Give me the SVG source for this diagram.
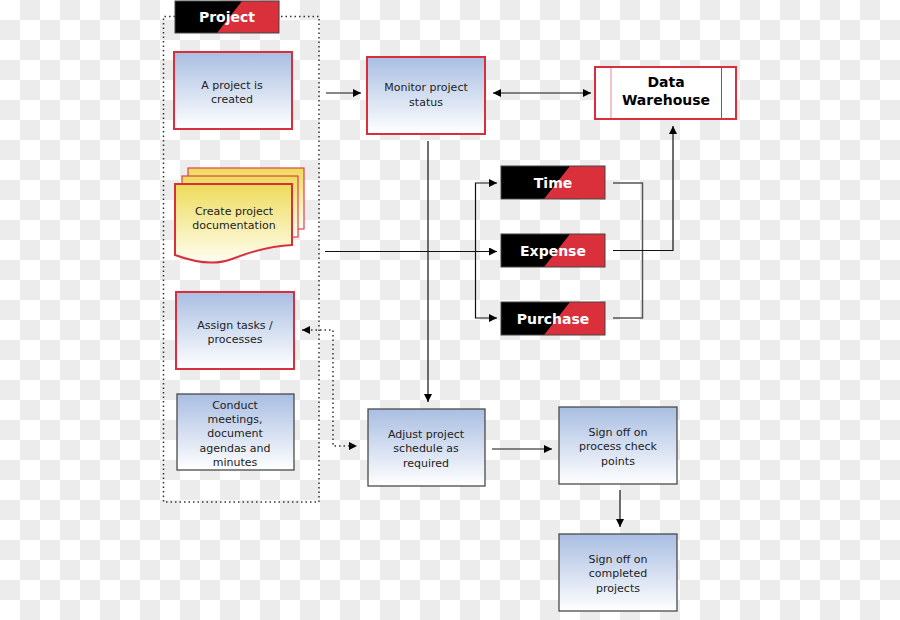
<svg xmlns="http://www.w3.org/2000/svg" width="900" height="620" viewBox="0 0 900 620">
<defs>
<pattern id="chk" width="40" height="40" patternUnits="userSpaceOnUse">
<rect width="40" height="40" fill="#ffffff"/>
<rect x="20" y="0" width="20" height="20" fill="#ececec"/>
<rect x="0" y="20" width="20" height="20" fill="#ececec"/>
</pattern>
<linearGradient id="blue" x1="0" y1="0" x2="0" y2="1">
<stop offset="0" stop-color="#a9bee2"/>
<stop offset="1" stop-color="#ffffff"/>
</linearGradient>
<linearGradient id="yellow" x1="0" y1="0" x2="0" y2="1">
<stop offset="0" stop-color="#eedb5a"/>
<stop offset="1" stop-color="#fffef2"/>
</linearGradient>
<marker id="arr" viewBox="0 0 10 10" refX="10" refY="5" markerWidth="8" markerHeight="8" markerUnits="userSpaceOnUse" orient="auto-start-reverse">
<path d="M0,0 L10,5 L0,10 Z" fill="#000"/>
</marker>
</defs>
<style>
.t{font-family:"DejaVu Sans",Verdana,sans-serif;font-size:11px;fill:#222;text-anchor:middle}
.b{font-family:"DejaVu Sans",Verdana,sans-serif;font-size:14px;font-weight:bold;text-anchor:middle}
.w{fill:#fff}
.k{fill:#000}
.redbox{fill:url(#blue);stroke:#d92f3d;stroke-width:2}
.graybox{fill:url(#blue);stroke:#4a4a4a;stroke-width:1.3}
.ln{fill:none;stroke:#111;stroke-width:1.2}
.gl{fill:none;stroke:#555;stroke-width:1.5}
.dot{fill:none;stroke:#333;stroke-width:1.5;stroke-dasharray:1.5,3}
.tabblack{fill:#000}
.tabred{fill:#d9303b}
.tabframe{fill:none;stroke:#444;stroke-width:1}
</style>
<rect width="900" height="620" fill="url(#chk)"/>

<g id="project-container">
<path class="dot" d="M175,16.5 H163.5 V502 H319 V16.5 H279"/>
</g>

<g id="connectors">
<line class="ln" x1="326" y1="93" x2="361" y2="93" marker-end="url(#arr)"/>
<line class="ln" x1="493" y1="93" x2="591" y2="93" marker-start="url(#arr)" marker-end="url(#arr)"/>
<line class="ln" x1="428" y1="141" x2="428" y2="402" marker-end="url(#arr)"/>
<line class="ln" x1="325" y1="251.5" x2="497" y2="251.5" marker-end="url(#arr)"/>
<path class="ln" d="M497,183 H475.5 V318 H497" marker-start="url(#arr)" marker-end="url(#arr)"/>
<path class="gl" d="M613,183 H642.5 V318 H613"/>
<path class="ln" d="M613,250.5 H673 V126" marker-end="url(#arr)"/>
<path class="dot" d="M302,330 H333 V446 H357" marker-start="url(#arr)" marker-end="url(#arr)"/>
<line class="ln" x1="492" y1="449" x2="552" y2="449" marker-end="url(#arr)"/>
<line class="ln" x1="620" y1="490" x2="620" y2="527" marker-end="url(#arr)"/>
</g>

<g id="project-tab">
<rect x="175" y="1" width="104" height="32" class="tabblack"/>
<polygon points="242,1 279,1 279,33 217,33" class="tabred"/>
<rect x="175" y="1" width="104" height="32" class="tabframe"/>
<text x="227" y="22" class="b w">Project</text>
</g>

<g id="project-created">
<rect x="174" y="52" width="118" height="77" class="redbox"/>
<text x="232" y="89" class="t">A project is</text>
<text x="232" y="103" class="t">created</text>
</g>

<g id="create-doc">
<rect x="188" y="168" width="116" height="61" fill="url(#yellow)" stroke="#e0404e" stroke-width="1.2"/>
<rect x="182" y="176" width="116" height="61" fill="url(#yellow)" stroke="#e0404e" stroke-width="1.2"/>
<path d="M175,184 H292 V245 C270,246 250,252 232,259 C214,266 194,262 175,255 Z" fill="url(#yellow)" stroke="#d92f3d" stroke-width="2"/>
<text x="234" y="215" class="t">Create project</text>
<text x="234" y="229" class="t">documentation</text>
</g>

<g id="assign-tasks">
<rect x="176" y="292" width="118" height="77" class="redbox"/>
<text x="235" y="329" class="t">Assign tasks /</text>
<text x="235" y="343" class="t">processes</text>
</g>

<g id="conduct-meetings">
<rect x="177" y="394" width="117" height="76" class="graybox"/>
<text x="235" y="409" class="t">Conduct</text>
<text x="235" y="423" class="t">meetings,</text>
<text x="235" y="437" class="t">document</text>
<text x="235" y="452" class="t">agendas and</text>
<text x="235" y="466" class="t">minutes</text>
</g>

<g id="monitor">
<rect x="367" y="57" width="118" height="77" class="redbox"/>
<text x="426" y="91" class="t">Monitor project</text>
<text x="426" y="106" class="t">status</text>
</g>

<g id="data-warehouse">
<rect x="595" y="67" width="141" height="52" fill="#fff" stroke="#d92f3d" stroke-width="2"/>
<line x1="611" y1="68" x2="611" y2="118" stroke="#ee9aa2" stroke-width="1.2"/>
<line x1="721.5" y1="68" x2="721.5" y2="118" stroke="#d92f3d" stroke-width="1"/>
<text x="666" y="87" class="b k">Data</text>
<text x="666" y="105" class="b k">Warehouse</text>
</g>

<g id="time">
<rect x="501" y="166" width="104" height="33" class="tabblack"/>
<polygon points="570,166 605,166 605,199 544,199" class="tabred"/>
<rect x="501" y="166" width="104" height="33" class="tabframe"/>
<text x="553" y="188" class="b w">Time</text>
</g>

<g id="expense">
<rect x="501" y="234" width="104" height="33" class="tabblack"/>
<polygon points="570,234 605,234 605,267 544,267" class="tabred"/>
<rect x="501" y="234" width="104" height="33" class="tabframe"/>
<text x="553" y="256" class="b w">Expense</text>
</g>

<g id="purchase">
<rect x="501" y="302" width="104" height="33" class="tabblack"/>
<polygon points="570,302 605,302 605,335 544,335" class="tabred"/>
<rect x="501" y="302" width="104" height="33" class="tabframe"/>
<text x="553" y="324" class="b w">Purchase</text>
</g>

<g id="adjust-schedule">
<rect x="368" y="409" width="117" height="77" class="graybox"/>
<text x="426" y="438" class="t">Adjust project</text>
<text x="426" y="452" class="t">schedule as</text>
<text x="426" y="467" class="t">required</text>
</g>

<g id="signoff-checkpoints">
<rect x="559" y="407" width="118" height="77" class="graybox"/>
<text x="618" y="436" class="t">Sign off on</text>
<text x="618" y="450" class="t">process check</text>
<text x="618" y="465" class="t">points</text>
</g>

<g id="signoff-completed">
<rect x="559" y="534" width="118" height="77" class="graybox"/>
<text x="618" y="563" class="t">Sign off on</text>
<text x="618" y="577" class="t">completed</text>
<text x="618" y="592" class="t">projects</text>
</g>
</svg>
